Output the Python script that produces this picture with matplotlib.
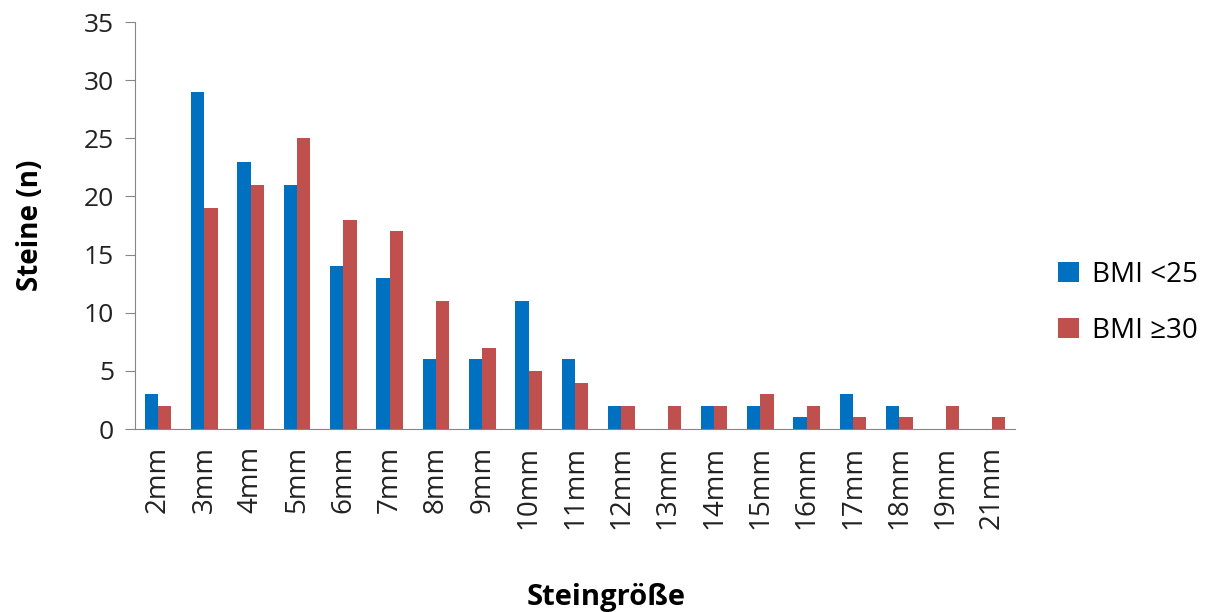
import matplotlib
matplotlib.use('Agg')
import matplotlib.pyplot as plt
import numpy as np

plt.rcParams['font.family'] = ['Open Sans', 'DejaVu Sans']

sizes = ['2mm', '3mm', '4mm', '5mm', '6mm', '7mm', '8mm', '9mm', '10mm', '11mm',
         '12mm', '13mm', '14mm', '15mm', '16mm', '17mm', '18mm', '19mm', '21mm']
bmi_under25 = [3, 29, 23, 21, 14, 13, 6, 6, 11, 6, 2, 0, 2, 2, 1, 3, 2, 0, 0]
bmi_over30 = [2, 19, 21, 25, 18, 17, 11, 7, 5, 4, 2, 2, 2, 3, 2, 1, 1, 2, 1]

blue = '#0070C0'
red = '#C0504D'
grey = '#868686'

fig = plt.figure(figsize=(12.26, 6.12), dpi=100)
ax = fig.add_axes([0.110, 0.299, 0.718, 0.665])

x = np.arange(len(sizes))
w = 0.29
ax.bar(x - w / 2, bmi_under25, width=w, color=blue, label='BMI <25')
ax.bar(x + w / 2, bmi_over30, width=w, color=red, label='BMI ≥30')

ax.set_xlim(-0.5, len(sizes) - 0.5)
ax.set_ylim(0, 35)
ax.set_yticks(range(0, 36, 5))
ax.set_xticks(x)
ax.set_xticklabels(sizes, rotation=90)

for s in ['top', 'right']:
    ax.spines[s].set_visible(False)
for s in ['left', 'bottom']:
    ax.spines[s].set_color(grey)
ax.tick_params(axis='y', colors=grey, labelcolor='#222222', labelsize=19, length=7, pad=8)
ax.tick_params(axis='x', length=0, labelsize=20, labelcolor='#222222', pad=12)

ax.set_ylabel('Steine (n)', fontsize=20, fontweight='bold', labelpad=28)
fig.text(0.494, 0.012, 'Steingröße', fontsize=21, fontweight='bold', ha='center')

ax.legend(loc='center left', bbox_to_anchor=(1.02, 0.31), frameon=False,
          fontsize=20, handlelength=0.75, handleheight=0.75, labelspacing=1.0,
          handletextpad=0.5)

fig.savefig('out.png', dpi=100)
